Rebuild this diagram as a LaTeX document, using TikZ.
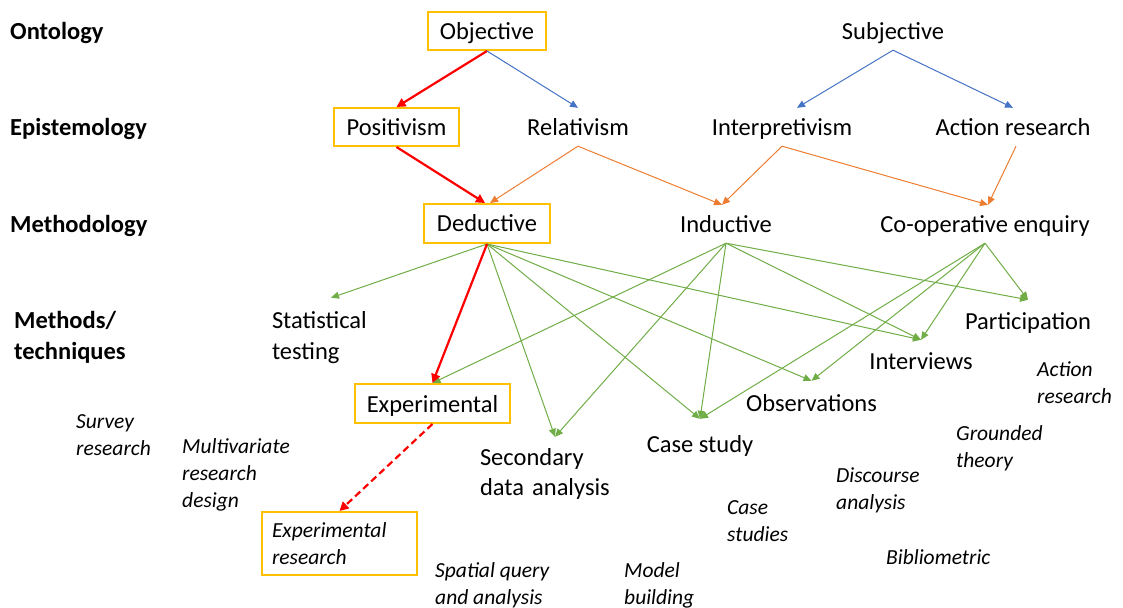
\documentclass[tikz,border=0pt]{standalone}
\usepackage{fontspec}
\setmainfont{Carlito}
\usepackage{xcolor}
\usepackage{tikz}
\usetikzlibrary{arrows.meta}

\definecolor{boxgold}{RGB}{255,192,0}
\definecolor{linkblue}{RGB}{68,114,196}
\definecolor{linkorange}{RGB}{237,125,49}
\definecolor{linkgreen}{RGB}{112,173,71}

\newcommand{\bigtext}{\fontsize{24.5bp}{30.5bp}\selectfont}
\newcommand{\smalltext}{\fontsize{21.5bp}{27bp}\selectfont\itshape}

\tikzstyle{level} = [anchor=west, inner sep=0, font=\bigtext\bfseries, align=left]
\tikzstyle{oneline} = [text height=17bp, text depth=0bp]
\tikzstyle{term} = [inner sep=0, minimum height=38bp, font=\bigtext, align=left]
\tikzstyle{chosen} = [term, draw=boxgold, line width=2bp]
\tikzstyle{method} = [anchor=west, inner sep=0, font=\smalltext, align=left]
\tikzstyle{redarrow} = [red, line width=2.2bp, -{Triangle[width=9bp,length=9bp]}]
\tikzstyle{bluearrow} = [linkblue, line width=1bp, -{Triangle[width=7bp,length=8bp]}]
\tikzstyle{orangearrow} = [linkorange, line width=1bp, -{Triangle[width=7bp,length=8bp]}]
\tikzstyle{greenarrow} = [linkgreen, line width=1bp, -{Triangle[width=7bp,length=8bp]}]

\begin{document}
\begin{tikzpicture}[x=1bp, y=-1bp]
\useasboundingbox (0,0) rectangle (1123,608);

% Row headings
\node (ont) at (10,31) [level, oneline] {Ontology};
\node (epi) at (10,127) [level, oneline] {Epistemology};
\node (meth) at (10,224) [level, oneline] {Methodology};
\node (tech) at (14,337.5) [level] {Methods/\\techniques};

% Ontology
\node (obj) at (487,31) [chosen, oneline, minimum width=118bp] {Objective};
\node (subj) at (893,31) [term, oneline] {Subjective};

% Epistemology
\node (pos) at (396.5,127) [chosen, oneline, minimum width=125bp] {Positivism};
\node (rel) at (578,127) [term, oneline] {Relativism};
\node (interp) at (782,127) [term, oneline] {Interpretivism};
\node (actr) at (1013,127) [term, oneline] {Action research};

% Methodology
\node (ded) at (487,223.5) [chosen, oneline, minimum width=126bp, minimum height=39bp] {Deductive};
\node (ind) at (726,224) [term, oneline] {Inductive};
\node (coop) at (985,224) [term, oneline] {Co-operative enquiry};

% Methods / techniques
\node (stat) at (331,337.5) [term, text width=118bp, minimum height=79bp] {Statistical\\testing};
\node (part) at (1028,321) [term, oneline, minimum height=42bp] {Participation};
\node (intv) at (921,361) [term, oneline, minimum height=42bp] {Interviews};
\node (obs) at (811.5,403) [term, oneline, minimum height=44bp] {Observations};
\node (exp) at (432.5,403.5) [chosen, oneline, minimum width=155bp, minimum height=39bp] {Experimental};
\node (cs) at (700,444) [term, oneline, minimum height=50bp] {Case study};
\node (sec) at (555,474) [term, text width=150bp, minimum height=74bp] {Secondary\\data analysis};
\node (expres) at (339.5,543.5) [chosen, font=\smalltext, text width=135bp, inner xsep=10bp, minimum height=63bp] {Experimental\\research};

% Research designs
\node (survey) at (76,435.5) [method] {Survey\\research};
\node (multi) at (182,474.5) [method] {Multivariate\\research\\design};
\node (spatial) at (435,585) [method] {Spatial query\\and analysis};
\node (model) at (624,585) [method] {Model\\building};
\node (casest) at (727,521) [method] {Case\\studies};
\node (disc) at (836,490) [method] {Discourse\\analysis};
\node (grnd) at (956,448.5) [method] {Grounded\\theory};
\node (actit) at (1037,382.5) [method] {Action\\research};
\node (biblio) at (886,557) [method] {Bibliometric};

% Ontology -> epistemology
\draw [redarrow] (obj.south) -- (pos.north);
\draw [bluearrow] (obj.south) -- (rel.north);
\draw [bluearrow] (subj.south) -- ([xshift=15bp]interp.north);
\draw [bluearrow] (subj.south) -- (actr.north);

% Epistemology -> methodology
\draw [orangearrow] (rel.south) -- ([xshift=3bp]ded.north);
\draw [orangearrow] (rel.south) -- ([xshift=-4bp]ind.north);
\draw [orangearrow] (interp.south) -- ([xshift=-4bp]ind.north);
\draw [orangearrow] (interp.south) -- ([xshift=3bp]coop.north);
\draw [orangearrow] ([xshift=3bp]actr.south) -- ([xshift=3bp]coop.north);
\draw [redarrow] (pos.south) -- ([xshift=-2bp]ded.north);

% Methodology -> methods
\foreach \target in {stat, sec, cs, obs, intv}
  \draw [greenarrow] (ded.south) -- (\target.north);
\foreach \target in {exp, sec, cs, intv, part}
  \draw [greenarrow] (ind.south) -- (\target.north);
\foreach \target in {part, intv, obs, cs}
  \draw [greenarrow] (coop.south) -- (\target.north);
\draw [redarrow] (ded.south) -- (exp.north);
\draw [redarrow, dash pattern=on 7bp off 4bp] (exp.south) -- (expres.north);

\end{tikzpicture}
\end{document}
